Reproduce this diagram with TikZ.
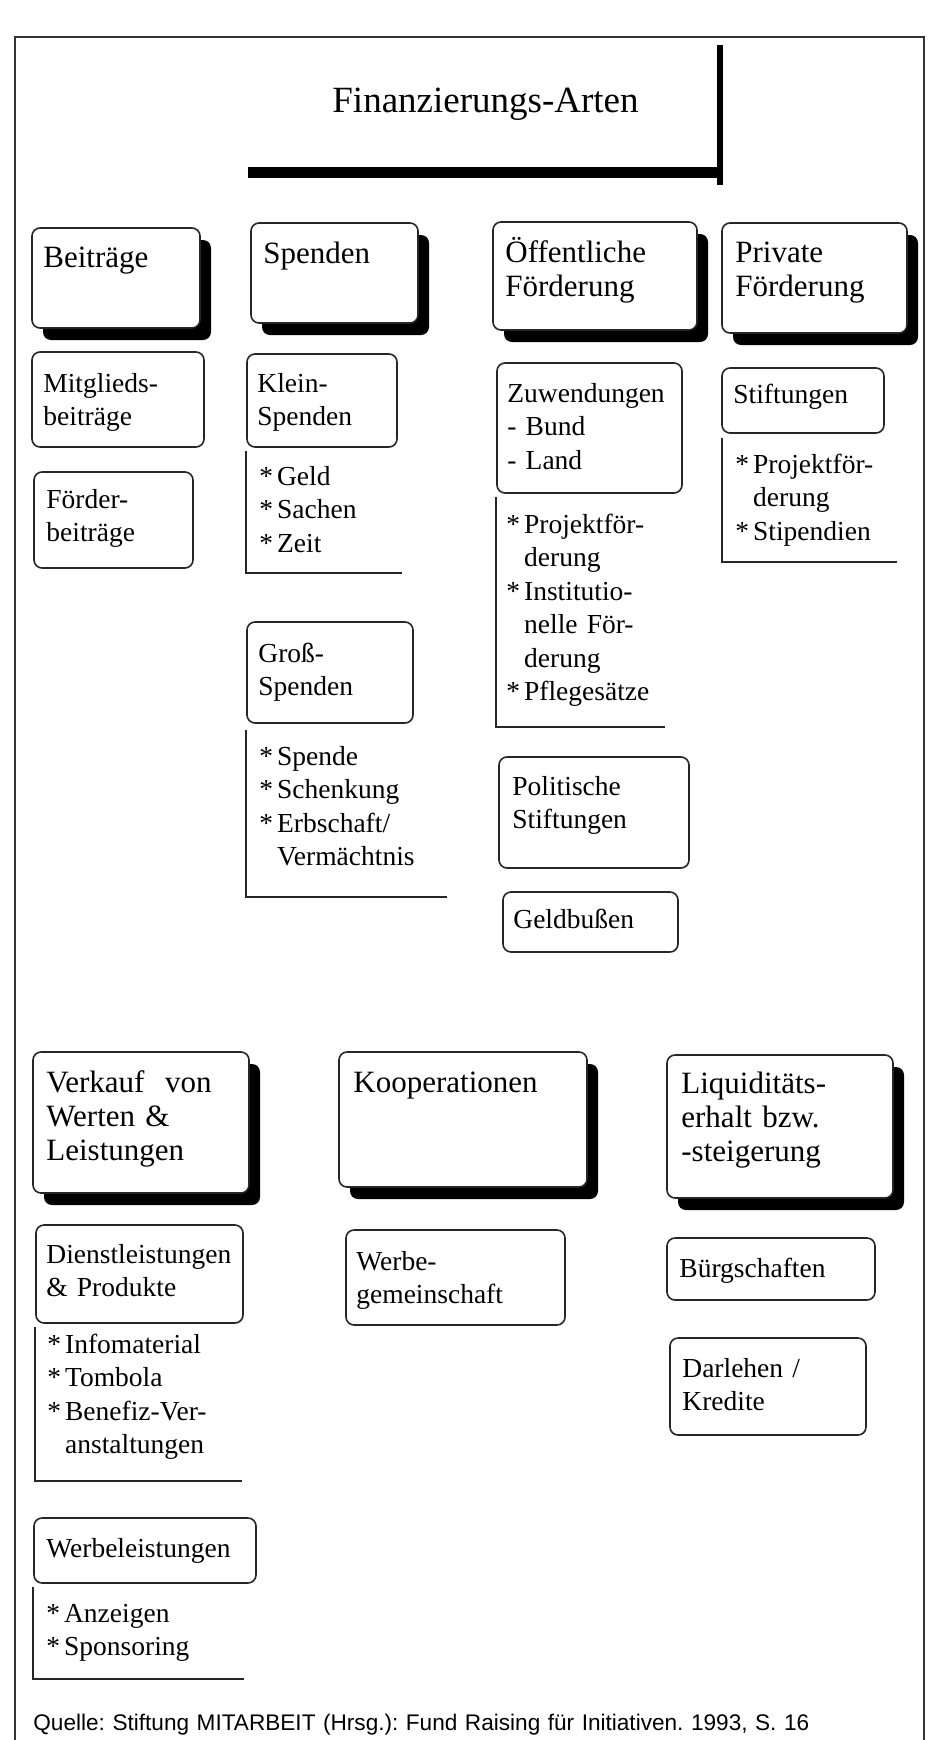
\documentclass[tikz,border=0pt]{standalone}
\usepackage{fontspec}
\setmainfont{Liberation Serif}
\setsansfont{Liberation Sans}
\usetikzlibrary{fit,shadows}
\frenchspacing

\newcommand\titelschrift{\fontsize{18.5}{21}\selectfont}
\newcommand\kopfschrift{\fontsize{15.5}{17}\selectfont}
\newcommand\grundschrift{\fontsize{13.75}{16.75}\selectfont}
\newcommand\quellschrift{\sffamily\fontsize{11.3}{13}\selectfont}
\newcommand\stern{{*}}
\newcommand\punkte[1]{\begin{tabular}[t]{@{}l@{\hspace{2pt}}l@{}}#1\end{tabular}}

\tikzstyle{feld}=[draw=black!85,line width=0.8pt,rounded corners=4pt,fill=white,inner sep=0pt]
\tikzstyle{kopf}=[feld,drop shadow={shadow xshift=5.5pt,shadow yshift=-6pt,fill=black,opacity=1}]
\tikzstyle{txt}=[anchor=base west,inner sep=0pt,text width=240pt,align=left,font=\grundschrift]
\tikzstyle{kopftxt}=[txt,font=\kopfschrift]
\tikzstyle{klammer}=[draw=black!85,line width=0.8pt]

\begin{document}
\begin{tikzpicture}[x=0.5pt,y=-0.5pt]
\useasboundingbox (0,0) rectangle (929,1740);
\draw[line width=0.9pt,black!80] (15,1745) -- (15,37) -- (924,37) -- (924,1745);

% Titel
\node[fit={(248,38) (717,167)},inner sep=0pt] (titel) {};
\node[txt,font=\titelschrift] (titelT) at (332,112) {Finanzierungs-Arten};
\fill (titel.north east) ++(0,7) rectangle ++(6,140);
\fill (titel.south west) rectangle ++(475,11);

% obere Reihe
\node[kopf,fit={(32,228) (200,328)}] (beitr) {};
\node[kopftxt] (beitrT) at (43,267) {Beiträge};
\node[kopf,fit={(251,223) (418,323)}] (spend) {};
\node[kopftxt] (spendT) at (263,263) {Spenden};
\node[kopf,fit={(493,222) (697,330)}] (oeff) {};
\node[kopftxt] (oeffT) at (505,262) {Öffentliche\\Förderung};
\node[kopf,fit={(722,223) (907,333)}] (priv) {};
\node[kopftxt] (privT) at (735,262) {Private\\Förderung};

% Beiträge
\node[feld,fit={(32,352) (204,447)}] (mitgl) {};
\node[txt] (mitglT) at (43,392) {Mitglieds-\\beiträge};
\node[feld,fit={(34,472) (193,568)}] (foerd) {};
\node[txt] (foerdT) at (46,508) {Förder-\\beiträge};

% Spenden
\node[feld,fit={(247,354) (397,447)}] (klein) {};
\node[txt] (kleinT) at (257,392) {Klein-\\Spenden};
\node[txt] (kleinL) at (259,485) {\punkte{\stern&Geld\\\stern&Sachen\\\stern&Zeit}};
\coordinate (kleinE) at (402,573);
\draw[klammer] ([yshift=-1.5pt]klein.south west) |- (kleinE);

\node[feld,fit={(247,622) (413,723)}] (gross) {};
\node[txt] (grossT) at (258,662) {Groß-\\Spenden};
\node[txt] (grossL) at (259,765) {\punkte{\stern&Spende\\\stern&Schenkung\\\stern&Erbschaft/\\&Vermächtnis}};
\coordinate (grossE) at (447,897);
\draw[klammer] ([yshift=-3pt]gross.south west) |- (grossE);

% Öffentliche Förderung
\node[feld,fit={(497,363) (682,493)}] (zuw) {};
\node[txt] (zuwT) at (507,402) {Zuwendungen\\- Bund\\- Land};
\node[txt] (zuwL) at (506,533) {\punkte{\stern&Projektför-\\&derung\\\stern&Institutio-\\&nelle För-\\&derung\\\stern&Pflegesätze}};
\coordinate (zuwE) at (665,727);
\draw[klammer] ([yshift=-1.5pt]zuw.south west) |- (zuwE);

\node[feld,fit={(499,757) (689,868)}] (polit) {};
\node[txt] (politT) at (512,795) {Politische\\Stiftungen};
\node[feld,fit={(503,892) (678,952)}] (geld) {};
\node[txt] (geldT) at (513,928) {Geldbußen};

% Private Förderung
\node[feld,fit={(722,368) (884,433)}] (stift) {};
\node[txt] (stiftT) at (733,403) {Stiftungen};
\node[txt] (stiftL) at (735,473) {\punkte{\stern&Projektför-\\&derung\\\stern&Stipendien}};
\coordinate (stiftE) at (897,562);
\draw[klammer] ([yshift=-2pt]stift.south west) ++(1,0) |- (stiftE);

% untere Reihe
\node[kopf,fit={(33,1052) (249,1193)}] (verk) {};
\node[kopftxt] (verkT) at (46,1092) {Verkauf\ \ von\\Werten \&\\Leistungen};
\node[kopf,fit={(339,1052) (587,1187)}] (koop) {};
\node[kopftxt] (koopT) at (353,1092) {Kooperationen};
\node[kopf,fit={(667,1055) (893,1198)}] (liq) {};
\node[kopftxt] (liqT) at (681,1093) {Liquiditäts-\\erhalt bzw.\\-steigerung};

% Verkauf
\node[feld,fit={(36,1225) (243,1323)}] (dienst) {};
\node[txt] (dienstT) at (46,1263) {Dienstleistungen\\\& Produkte};
\node[txt] (dienstL) at (47,1353) {\punkte{\stern&Infomaterial\\\stern&Tombola\\\stern&Benefiz-Ver-\\&anstaltungen}};
\coordinate (dienstE) at (242,1481);
\draw[klammer] ([yshift=-1.5pt]dienst.south west) |- (dienstE);

\node[feld,fit={(34,1518) (256,1583)}] (werbl) {};
\node[txt] (werblT) at (46,1557) {Werbeleistungen};
\node[txt] (werblL) at (46,1622) {\punkte{\stern&Anzeigen\\\stern&Sponsoring}};
\coordinate (werblE) at (244,1679);
\draw[klammer] ([yshift=-1.5pt]werbl.south west) |- (werblE);

% Kooperationen
\node[feld,fit={(346,1230) (565,1325)}] (werbg) {};
\node[txt] (werbgT) at (356,1270) {Werbe-\\gemeinschaft};

% Liquidität
\node[feld,fit={(667,1238) (875,1300)}] (buerg) {};
\node[txt] (buergT) at (679,1277) {Bürgschaften};
\node[feld,fit={(670,1338) (866,1435)}] (darl) {};
\node[txt] (darlT) at (682,1377) {Darlehen /\\Kredite};

% Quelle
\node[txt,text width=420pt,font=\quellschrift] (quelle) at (33,1730) {Quelle: Stiftung MITARBEIT (Hrsg.): Fund Raising für Initiativen. 1993, S. 16};
\end{tikzpicture}
\end{document}
